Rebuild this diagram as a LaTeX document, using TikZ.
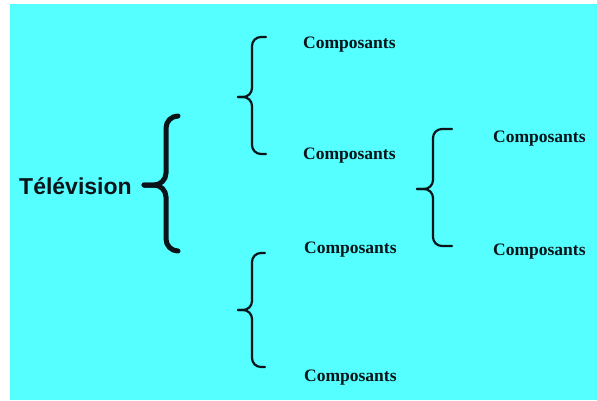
\documentclass[tikz,border=0pt]{standalone}
\usepackage{fontspec}
\setmainfont{Liberation Serif}
\setsansfont{Liberation Sans}
\definecolor{bgcyan}{RGB}{85,255,255}
\definecolor{ink}{RGB}{10,20,25}
\begin{document}
\begin{tikzpicture}[x=1pt,y=-1pt,
  comp/.style={inner sep=0pt, anchor=base west, text=ink, font=\fontsize{17.5}{20}\selectfont\bfseries},
  title/.style={inner sep=0pt, anchor=base west, text=ink, font=\fontsize{23}{26}\selectfont\sffamily\bfseries},
  smallbrace/.style={draw=ink, line width=2.2pt, rounded corners=9pt, line cap=round},
  bigbrace/.style={draw=ink, line width=5pt, rounded corners=12pt, line cap=round}]
\useasboundingbox (0,0) rectangle (597,400);
\fill[white] (0,0) rectangle (597,400);
\fill[bgcyan] (10,4) rectangle (597,400);

% texts
\node[title] (tv) at (19,194) {Télévision};
\node[comp] (c1) at (303,48) {Composants};
\node[comp] (c2) at (303,159) {Composants};
\node[comp] (c3) at (493,142) {Composants};
\node[comp] (c4) at (493,255) {Composants};
\node[comp] (c5) at (304,253) {Composants};
\node[comp] (c6) at (304,381) {Composants};

% big brace
\draw[bigbrace] (178,116) -| (166,185) -- (144,185);
\draw[bigbrace] (144,185) -- (166,185) |- (178,251);

% upper middle brace
\draw[smallbrace] (266,37) -| (252,97) -- (238,97);
\draw[smallbrace] (238,97) -- (252,97) |- (266,154);

% lower middle brace
\draw[smallbrace] (265,253) -| (252,310) -- (238,310);
\draw[smallbrace] (238,310) -- (252,310) |- (265,367);

% right brace
\draw[smallbrace] (452,129) -| (433,189) -- (417,189);
\draw[smallbrace] (417,189) -- (433,189) |- (452,246);
\end{tikzpicture}
\end{document}
